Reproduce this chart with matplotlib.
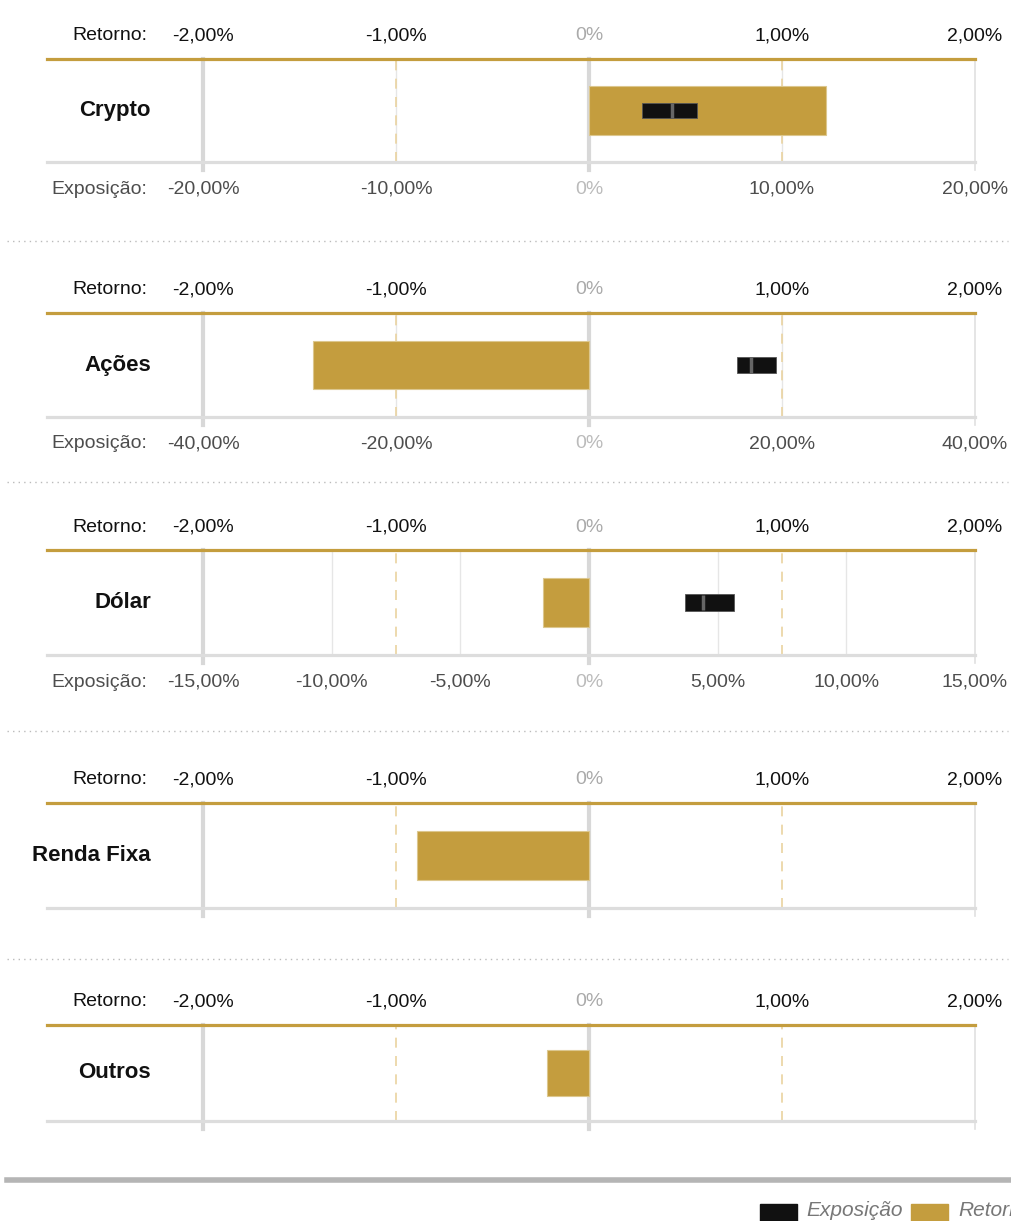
import matplotlib
matplotlib.use("Agg")
import matplotlib.pyplot as plt
from matplotlib.lines import Line2D
from matplotlib.patches import Rectangle

plt.rcParams['font.family'] = ['Liberation Sans', 'DejaVu Sans']

categories = ["Crypto", "Ações", "Dólar", "Renda Fixa", "Outros"]
retorno = [1.23, -1.43, -0.24, -0.89, -0.22]
retorno_ticks = [-2, -1, 0, 1, 2]
expo_max = [20, 40, 15, None, None]
expo_step = [10, 20, 5, None, None]
expo_low = [2.75, 15.3, 3.73, None, None]
expo_high = [5.60, 19.4, 5.64, None, None]
expo_mark = [4.30, 16.8, 4.43, None, None]

GOLD = "#c49d3e"
W, H = 1011, 1221
fig = plt.figure(figsize=(W / 100, H / 100), dpi=100)

# pixel layout of each panel (top gold line, bottom grey line)
tops = [59, 313, 550, 803, 1025]
bottoms = [162, 417, 655, 908, 1121]
separators = [241, 482, 731, 959]
x_left, x_right = 47, 975
px_per_pct = 193.0
xmin = -2 - (203 - x_left) / px_per_pct


def fmt(v):
    if v == 0:
        return "0%"
    return ("%.2f%%" % v).replace(".", ",")


for i, cat in enumerate(categories):
    ax = fig.add_axes([x_left / W, 1 - bottoms[i] / H,
                       (x_right - x_left) / W, (bottoms[i] - tops[i]) / H])
    ax.set_xlim(xmin, 2)
    ax.set_ylim(0, 1)
    ax.axis("off")

    # exposure grid
    if expo_max[i] is not None:
        k = expo_max[i] / 2.0
        v = -expo_max[i]
        while v <= expo_max[i] + 1e-9:
            if abs(v) not in (0, expo_max[i]):
                ax.axvline(v / k, color="#e6e6e6", lw=1, zorder=1)
            v += expo_step[i]

    # retorno dashed grid
    for t in (-1, 1):
        ax.axvline(t, color="#ead3a0", lw=1.2, ls=(0, (6, 5)), zorder=1)

    # main vertical lines
    ax.axvline(-2, ymin=-0.08, ymax=1, color="#d8d8d8", lw=3, clip_on=False, zorder=2)
    ax.axvline(0, ymin=-0.08, ymax=1, color="#d8d8d8", lw=3, clip_on=False, zorder=2)
    ax.axvline(2, ymin=-0.08, ymax=1, color="#e0e0e0", lw=1.2, clip_on=False, zorder=2)

    # top / bottom lines
    ax.plot([xmin, 2], [1, 1], color=GOLD, lw=2.3, clip_on=False, zorder=3)
    ax.plot([xmin, 2], [0, 0], color="#dddddd", lw=2.3, clip_on=False, zorder=3)

    # retorno bar
    ax.barh(0.5, retorno[i], height=0.47, left=0, color=GOLD,
            edgecolor="#dcc78e", lw=0.8, zorder=4)

    # exposure marker
    if expo_max[i] is not None:
        k = expo_max[i] / 2.0
        ax.barh(0.5, (expo_high[i] - expo_low[i]) / k, height=0.155,
                left=expo_low[i] / k, color="#111111", edgecolor="#555555",
                lw=0.6, zorder=5)
        ax.plot([expo_mark[i] / k] * 2, [0.5 - 0.075, 0.5 + 0.075],
                color="#666666", lw=2.5, solid_capstyle="butt", zorder=6)

    # retorno tick labels
    ty = 1 + 23.0 / (bottoms[i] - tops[i])
    for t in retorno_ticks:
        ax.text(t, ty, fmt(t), ha="center", va="center", fontsize=14,
                color="#aaaaaa" if t == 0 else "#111111", clip_on=False)
    ax.text(-2 - 56 / px_per_pct, ty, "Retorno:", ha="right", va="center",
            fontsize=14, color="#111111")

    # exposure tick labels
    if expo_max[i] is not None:
        by = -27.0 / (bottoms[i] - tops[i])
        k = expo_max[i] / 2.0
        v = -expo_max[i]
        while v <= expo_max[i] + 1e-9:
            ax.text(v / k, by, fmt(v), ha="center", va="center", fontsize=14,
                    color="#bbbbbb" if v == 0 else "#4d4d4d", clip_on=False)
            v += expo_step[i]
        ax.text(-2 - 56 / px_per_pct, by, "Exposição:", ha="right", va="center",
                fontsize=14, color="#4d4d4d")

    # category label
    ax.text(-2 - 52 / px_per_pct, 0.5, cat, ha="right", va="center",
            fontsize=16, fontweight="bold", color="#111111")

# dotted separators
for y in separators:
    fig.add_artist(Line2D([7 / W, 1008 / W], [1 - y / H] * 2, color="#bbbbbb",
                          lw=1, ls=(0, (1, 3))))

# bottom thick line
fig.add_artist(Line2D([7 / W, 1], [1 - 1180 / H] * 2, color="#b5b5b5", lw=4))

# legend (cut at the right edge, as in the original)
fig.add_artist(Rectangle((760 / W, 0), 37 / W, 17 / H, color="#111111"))
fig.text(806 / W, 0.5 / H, "Exposição", fontsize=15, style="italic",
         color="#777777", ha="left", va="bottom")
fig.add_artist(Rectangle((911 / W, 0), 37 / W, 17 / H, color=GOLD))
fig.text(958 / W, 0.5 / H, "Retorno", fontsize=15, style="italic",
         color="#777777", ha="left", va="bottom")

fig.savefig("out.png", dpi=100)
